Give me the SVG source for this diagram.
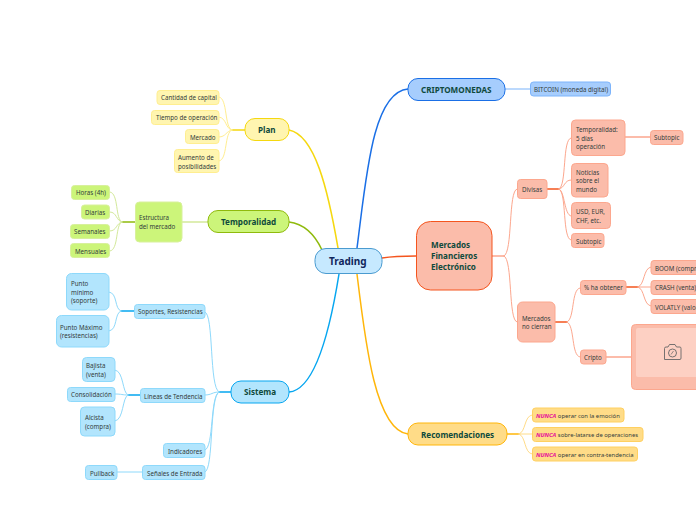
<svg xmlns="http://www.w3.org/2000/svg" width="696" height="520" viewBox="0 0 696 520">
<style>
text{font-family:"Noto Sans","Open Sans","Liberation Sans",sans-serif;font-size:6.2px;fill:#333c3c}
.m{font-size:8.1px;font-weight:700;fill:#0f4a3c}
.r{font-size:10px;font-weight:700;fill:#10265c}
.x{font-size:5.9px}
.n{font-weight:700;font-style:italic;fill:#e6109a}
rect{stroke-width:1}
.c path,.c line{fill:none;stroke-width:1;stroke-linecap:round}
.c .t{stroke-width:1.5}
.y rect{fill:#fff5b0;stroke:#ffee90}.y .p{stroke:#f5d80f;fill:#fff5b0}
.g rect{fill:#ccf57a;stroke:#d8f09c}.g .p{stroke:#8fba0c;fill:#ccf57a}
.b rect{fill:#b2e5fd;stroke:#8ed9fb}.b .p{stroke:#06a6f0;fill:#b2e5fd}
.u rect{fill:#a6cdfd;stroke:#7db4fb}.u .p{stroke:#1a6fe6;fill:#a6cdfd}
.o rect{fill:#fbbcaa;stroke:#fca78e}.o .p{stroke:#f4551e;fill:#fbbcaa}
.a rect{fill:#ffdc88;stroke:#ffd060}.a .p{stroke:#ffb60a;fill:#ffdc88}
.ly{stroke:#ffee90}.ty{stroke:#f5d80f}
.lg{stroke:#d3e99a}.tg{stroke:#8fba0c}
.lb{stroke:#8ed9fb}.tb{stroke:#06a6f0}
.lu{stroke:#a6cdfd}.tu{stroke:#1a6fe6}
.lo{stroke:#fca78e}.to{stroke:#f4551e}
.la{stroke:#ffdc88}.ta{stroke:#ffb60a}
</style>
<g class="c" id="connectors">
<path class="t ty" d="M289,130C315,135 328,190 338,248"/>
<path class="t tg" d="M289,222C305,224 315,235 322,250"/>
<path class="t tb" d="M289,392C315,390 330,330 339,274"/>
<path class="t tu" d="M357,248C366,180 372,92 408,89"/>
<path class="t to" d="M382,258C395,256 405,256 416,256"/>
<path class="t ta" d="M357,274C365,340 375,430 408,434"/>
<line class="t ty" x1="232" y1="130" x2="245" y2="130"/>
<path class="ly" d="M232,130C224,128 228,98 219,97"/>
<path class="ly" d="M232,130C225,129 227,118 219,117"/>
<path class="ly" d="M232,130C226,131 226,137 219,137"/>
<path class="ly" d="M232,130C224,132 228,160 219,161"/>
<line class="t lg" x1="182" y1="222" x2="208" y2="222"/>
<line class="t tg" x1="122" y1="222" x2="135" y2="222"/>
<path class="lg" d="M122,222C115,220 119,193 110,192"/>
<path class="lg" d="M122,222C116,221 117,212 110,212"/>
<path class="lg" d="M122,222C116,223 117,231 110,231"/>
<path class="lg" d="M122,222C115,224 119,250 110,251"/>
<line class="t tb" x1="219" y1="392" x2="231" y2="392"/>
<path class="lb" d="M219,392C209,388 214,314 205,312"/>
<path class="lb" d="M219,392C212,392 212,395 205,395"/>
<path class="lb" d="M219,392C210,395 214,448 205,450"/>
<path class="lb" d="M219,392C209,396 214,470 205,472"/>
<line class="t tb" x1="121" y1="311" x2="134" y2="311"/>
<path class="lb" d="M121,311C114,309 118,293 109,292"/>
<path class="lb" d="M121,311C114,313 118,330 109,331"/>
<line class="t tb" x1="128" y1="395" x2="140" y2="395"/>
<path class="lb" d="M128,395C122,393 124,371 115,370"/>
<path class="lb" d="M128,395C122,395 122,394 115,394"/>
<path class="lb" d="M128,395C122,397 124,420 115,421"/>
<line class="lb" x1="117" y1="472" x2="142" y2="472"/>
<line class="t lu" x1="505" y1="89" x2="530" y2="89"/>
<line class="t lo" x1="492" y1="256" x2="504" y2="256"/>
<path class="lo" d="M504,256C513,253 508,190 517,189"/>
<path class="lo" d="M504,256C513,259 508,321 517,322"/>
<line class="t to" x1="547" y1="189" x2="559" y2="189"/>
<path class="lo" d="M559,189C567,186 562,139 571,138"/>
<path class="lo" d="M559,189C565,188 564,180 571,180"/>
<path class="lo" d="M559,189C565,191 564,215 571,216"/>
<path class="lo" d="M559,189C567,192 562,239 571,240"/>
<line class="t lo" x1="625" y1="137" x2="650" y2="137"/>
<line class="t to" x1="555" y1="322" x2="567" y2="322"/>
<path class="lo" d="M567,322C575,319 571,289 580,288"/>
<path class="lo" d="M567,322C575,325 571,356 580,357"/>
<line class="t to" x1="626" y1="287" x2="638" y2="287"/>
<path class="lo" d="M638,287C645,285 643,268 651,267"/>
<line class="lo" x1="638" y1="287" x2="651" y2="287"/>
<path class="lo" d="M638,287C645,289 643,305 651,306"/>
<line class="t lo" x1="606" y1="357" x2="631" y2="357"/>
<line class="t ta" x1="507" y1="434" x2="519" y2="434"/>
<path class="la" d="M519,434C526,432 524,416 532,415"/>
<line class="la" x1="519" y1="434" x2="532" y2="434"/>
<path class="la" d="M519,434C526,436 524,453 532,454"/>
</g>
<g id="trading"><rect x="315" y="248.500" width="67" height="25" rx="11" fill="#c6e9ff" stroke="#4a9bd0"/><text class="r" x="329" y="265">Trading</text></g>
<g id="plan" class="y"><rect class="p" x="245" y="118.500" width="44" height="22" rx="10"/><text class="m" x="258" y="133">Plan</text></g>
<g id="n-capital" class="y"><rect x="157" y="90.500" width="62" height="14" rx="3"/><text x="161" y="100">Cantidad de capital</text></g>
<g id="n-tiempo" class="y"><rect x="151.500" y="110.500" width="67.500" height="14" rx="3"/><text x="156" y="120">Tiempo de operación</text></g>
<g id="n-mercado" class="y"><rect x="185.500" y="129.500" width="33.500" height="14" rx="3"/><text x="190" y="139.500">Mercado</text></g>
<g id="n-aumento" class="y"><rect x="174.500" y="149.500" width="44.500" height="23" rx="3"/><text x="178" y="160">Aumento de</text><text x="178" y="168.500">posibilidades</text></g>
<g id="temporalidad" class="g"><rect class="p" x="208" y="210.500" width="81" height="22" rx="10"/><text class="m" x="221" y="225">Temporalidad</text></g>
<g id="n-estructura" class="g"><rect x="135.500" y="202" width="46.500" height="40" rx="4"/><text x="139" y="220">Estructura</text><text x="139" y="229">del mercado</text></g>
<g id="n-horas" class="g"><rect x="71.500" y="185.500" width="38" height="14" rx="3"/><text x="76" y="195">Horas (4h)</text></g>
<g id="n-diarias" class="g"><rect x="81.500" y="205" width="28" height="14" rx="3"/><text x="85" y="214.500">Diarias</text></g>
<g id="n-semanales" class="g"><rect x="70.500" y="224.500" width="39" height="14" rx="3"/><text x="74" y="234">Semanales</text></g>
<g id="n-mensuales" class="g"><rect x="70.500" y="243.500" width="39" height="14" rx="3"/><text x="75" y="253.500">Mensuales</text></g>
<g id="sistema" class="b"><rect class="p" x="231" y="381" width="58" height="22" rx="10"/><text class="m" x="244" y="395">Sistema</text></g>
<g id="n-soportes" class="b"><rect x="134.500" y="304.500" width="70.500" height="14" rx="3"/><text x="138" y="314">Soportes, Resistencias</text></g>
<g id="n-minimo" class="b"><rect x="66.500" y="273.500" width="42.500" height="36.500" rx="5"/><text x="71" y="286">Punto</text><text x="71" y="294.500">mínimo</text><text x="71" y="303">(soporte)</text></g>
<g id="n-maximo" class="b"><rect x="56.500" y="315.500" width="52.500" height="31.500" rx="5"/><text x="60" y="330">Punto Máximo</text><text x="60" y="338">(resistencias)</text></g>
<g id="n-lineas" class="b"><rect x="140.500" y="388.500" width="64.500" height="14" rx="3"/><text x="144" y="398.500">Líneas de Tendencia</text></g>
<g id="n-bajista" class="b"><rect x="82.500" y="357.500" width="32.500" height="24" rx="4"/><text x="86" y="368">Bajista</text><text x="86" y="377">(venta)</text></g>
<g id="n-consolidacion" class="b"><rect x="67.500" y="387.500" width="47.500" height="14" rx="3"/><text x="71" y="397">Consolidación</text></g>
<g id="n-alcista" class="b"><rect x="80.500" y="407" width="34.500" height="29" rx="4"/><text x="85" y="420">Alcista</text><text x="85" y="429">(compra)</text></g>
<g id="n-indicadores" class="b"><rect x="163.500" y="443.500" width="41.500" height="14" rx="3"/><text x="168" y="453.500">Indicadores</text></g>
<g id="n-senales" class="b"><rect x="142.500" y="465.500" width="62.500" height="14" rx="3"/><text x="147" y="475.500">Señales de Entrada</text></g>
<g id="n-pullback" class="b"><rect x="85.500" y="465.500" width="31.500" height="14" rx="3"/><text x="90" y="475.500">Pullback</text></g>
<g id="cripto" class="u"><rect class="p" x="408" y="78.500" width="97" height="22" rx="10"/><text class="m" x="421" y="92.500">CRIPTOMONEDAS</text></g>
<g id="n-bitcoin" class="u"><rect x="530.500" y="82" width="80" height="14" rx="3"/><text x="534" y="91.500">BITCOIN (moneda digital)</text></g>
<g id="mercados" class="o"><rect class="p" x="416.500" y="221.500" width="75.500" height="68.500" rx="14"/><text class="m" x="431" y="248">Mercados</text><text class="m" x="431" y="259">Financieros</text><text class="m" x="431" y="270">Electrónico</text></g>
<g id="n-divisas" class="o"><rect x="517.500" y="179.500" width="29.500" height="19" rx="3"/><text x="522" y="192">Divisas</text></g>
<g id="n-temp5" class="o"><rect x="571.500" y="120" width="53.500" height="35.500" rx="4"/><text x="576" y="132">Temporalidad:</text><text x="576" y="140.500">5 días</text><text x="576" y="149">operación</text></g>
<g id="n-sub1" class="o"><rect x="650.500" y="130.500" width="32.500" height="14" rx="3"/><text x="654" y="140">Subtopic</text></g>
<g id="n-noticias" class="o"><rect x="571.500" y="163.500" width="36.500" height="33.500" rx="4"/><text x="576" y="174.500">Noticias</text><text x="576" y="183">sobre el</text><text x="576" y="191.500">mundo</text></g>
<g id="n-usd" class="o"><rect x="571.500" y="202.500" width="39" height="26" rx="4"/><text x="576" y="214">USD, EUR,</text><text x="576" y="222.500">CHF, etc.</text></g>
<g id="n-sub2" class="o"><rect x="571.500" y="233.500" width="32.500" height="14" rx="3"/><text x="576" y="243.500">Subtopic</text></g>
<g id="n-nocierran" class="o"><rect x="517.500" y="302" width="37.500" height="40" rx="5"/><text x="522" y="321">Mercados</text><text x="522" y="329">no cierran</text></g>
<g id="n-obtener" class="o"><rect x="580.500" y="280.500" width="45.500" height="14" rx="3"/><text x="584" y="290">% ha obtener</text></g>
<g id="n-boom" class="o"><rect x="651" y="260.500" width="60" height="14" rx="3"/><text x="655" y="270.500">BOOM (compra)</text></g>
<g id="n-crash" class="o"><rect x="651" y="280.500" width="60" height="14" rx="3"/><text x="655" y="290">CRASH (venta)</text></g>
<g id="n-volat" class="o"><rect x="651" y="299.500" width="60" height="14" rx="3"/><text x="655" y="309.500">VOLATLY (valor</text></g>
<g id="n-cripto" class="o"><rect x="580.500" y="350" width="25.500" height="14" rx="3"/><text x="584" y="359.500">Cripto</text></g>
<g id="n-imagen" class="o"><rect x="631.500" y="324.500" width="90" height="65" rx="4"/><rect x="636" y="328" width="80" height="49" rx="2" style="fill:#fdd0c3;stroke:none"/>
<path d="M664.500,359.500V348.500Q664.500,347 666,347H668L669.500,344.500H675L676.500,347H680Q681,347 681,348.500V358Q681,359.500 680,359.500Z" fill="none" stroke="#666" stroke-width=".9"/><circle cx="672.500" cy="353" r="4" fill="none" stroke="#666" stroke-width=".9"/><path d="M671,354.500L673.500,351" fill="none" stroke="#666" stroke-width=".7"/></g>
<g id="recomendaciones" class="a"><rect class="p" x="408" y="423" width="99" height="22" rx="10"/><text class="m" x="421" y="437.500">Recomendaciones</text></g>
<g id="n-nunca1" class="a"><rect x="532.500" y="408" width="91.500" height="14" rx="3"/><text class="x" x="536" y="417.500"><tspan class="n">NUNCA</tspan> operar con la emoción</text></g>
<g id="n-nunca2" class="a"><rect x="532.500" y="427.500" width="110.500" height="14" rx="3"/><text class="x" x="536" y="437"><tspan class="n">NUNCA</tspan> sobre-latarse de operaciones</text></g>
<g id="n-nunca3" class="a"><rect x="532.500" y="447" width="105" height="14" rx="3"/><text class="x" x="536" y="456.500"><tspan class="n">NUNCA</tspan> operar en contra-tendencia</text></g>
</svg>
